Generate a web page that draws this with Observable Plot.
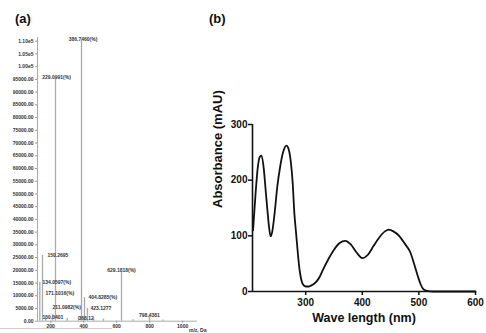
<!DOCTYPE html>
<html><head><meta charset="utf-8">
<script src="https://cdn.jsdelivr.net/npm/d3@7"></script>
<script src="https://cdn.jsdelivr.net/npm/@observablehq/plot@0.6"></script>
<style>
body{margin:0;background:#fff;font-family:"Liberation Sans",Arial,sans-serif}
#wrap{position:relative;width:486px;height:333px;overflow:hidden;background:#fff}
#pa{position:absolute;left:0;top:0}
#pb{position:absolute;left:190px;top:0}
.tag{position:absolute;font-size:13px;font-weight:bold;color:#111;line-height:15px}
.rule{position:absolute;left:0;top:328px;width:112px;height:1px;background:#ccc}
</style></head><body>
<div id="wrap">
  <div id="pa"></div><div id="pb"></div>
  <div class="tag" style="left:15px;top:11px">(a)</div>
  <div class="tag" style="left:209px;top:11px">(b)</div>
  <div class="rule"></div>
</div>
<script>
// ---------- Panel (a): mass spectrum ----------
const msPeakMz        = [134.06, 150.27, 229.10, 386.75, 404.83, 423.13, 629.18, 798.44, 170, 211, 300, 368, 460, 520, 700, 880];
const msPeakIntensity = [15200, 25800, 95000, 110300, 9300, 5000, 19200, 2300, 1500, 2500, 1200, 1800, 1000, 800, 600, 500];
const msLabelText      = ["386.7460(%)", "229.0991(%)", "150.2695", "134.0597(%)", "171.1016(%)", "211.0982(%)", "150.0401", "368.12", "404.8285(%)", "423.1277", "629.1818(%)", "798.4381"];
const msLabelMz        = [395.8, 235.2, 180.6, 150.3, 168.5, 210.9, 150.3, 368.5, 429.0, 441.2, 629.0, 798.8];
const msLabelIntensity = [110900, 95750, 25870, 15240, 10900, 5400, 1460, 1060, 9330, 5000, 19960, 2240];
const msLabelAnchor    = ["middle", "middle", "start", "start", "start", "start", "start", "start", "start", "start", "middle", "middle"];
const msXTicks = [200, 400, 600, 800, 1000];
const msYTicks = d3.range(0, 110001, 5000);

const peaks = msPeakMz.map((mz, i) => ({mz, intensity: msPeakIntensity[i]}));
const labels = msLabelText.map((text, i) => ({text, mz: msLabelMz[i], intensity: msLabelIntensity[i], anchor: msLabelAnchor[i]}));
const yFmt = d => d >= 100000 ? (d / 1e5).toFixed(2) + "e5" : d.toFixed(2);

const pa = Plot.plot({
  width: 215, height: 333,
  marginLeft: 37, marginRight: 18, marginTop: 40.7, marginBottom: 12.3,
  style: {fontSize: "5px", fontWeight: "bold", fontFamily: "Liberation Sans, Arial, sans-serif", color: "#333", background: "transparent"},
  x: {domain: [120, 1090]},
  y: {domain: [0, 110000]},
  marks: [
    Plot.ruleX(peaks, {x: "mz", y1: 0, y2: "intensity", stroke: "#aaa", strokeWidth: 1.3}),
    Plot.ruleX([120], {y1: 0, y2: 111500, stroke: "#aaa", strokeWidth: 1}),
    Plot.ruleY([0], {x1: 120, x2: 1090, stroke: "#aaa", strokeWidth: 1}),
    Plot.axisY({ticks: msYTicks, tickFormat: yFmt, tickSize: 2, tickPadding: 2, label: null, stroke: "#999"}),
    Plot.axisX({ticks: msXTicks, tickFormat: d => String(d), tickSize: 2, tickPadding: 1, label: null, stroke: "#999"}),
    Plot.text(labels.filter(d => d.anchor === "middle"), {x: "mz", y: "intensity", text: "text", textAnchor: "middle", fill: "#333"}),
    Plot.text(labels.filter(d => d.anchor === "start"), {x: "mz", y: "intensity", text: "text", textAnchor: "start", fill: "#333"}),
    Plot.text(["m/z, Da"], {frameAnchor: "bottom-right", textAnchor: "end", dx: 9, dy: 10.5, fill: "#333"})
  ]
});
document.getElementById("pa").appendChild(pa);

// ---------- Panel (b): UV-Vis absorbance ----------
const uvWavelength = [207,211,215,219,222,226,229,232,235,238,241,245,250,255,260,266,270,274,277,280,283,286,289,292,295,300,
  305,310,315,320,325,330,340,350,360,370,380,390,400,410,420,430,440,447,455,465,475,485,492,498,503,508,515,525,550,600];
const uvAbsorbance = [110,170,220,242,244,220,185,150,118,99,108,140,190,225,250,262,255,230,195,140,105,70,40,22,13,9,
  9,11,14,19,27,38,58,75,87,91,84,70,60,66,82,97,108,111,108,100,86,70,48,28,13,4,1,0,0,0];
const uvXTicks = [300, 400, 500, 600];
const uvYTicks = [0, 100, 200, 300];
const uv = uvWavelength.map((w, i) => ({w, a: uvAbsorbance[i]}));

const pb = Plot.plot({
  width: 296, height: 333,
  marginLeft: 62, marginRight: 11, marginTop: 124, marginBottom: 42,
  style: {fontSize: "10px", fontWeight: "bold", fontFamily: "Liberation Sans, Arial, sans-serif", color: "#111", background: "transparent"},
  x: {domain: [206, 600]},
  y: {domain: [0, 300]},
  marks: [
    Plot.ruleX([206], {y1: 0, y2: 300, stroke: "#111", strokeWidth: 1.6}),
    Plot.ruleY([0], {x1: 206, x2: 600, stroke: "#111", strokeWidth: 1.6}),
    Plot.axisX({ticks: uvXTicks, tickSize: 4, tickPadding: 3, strokeWidth: 1.5, label: null}),
    Plot.axisY({ticks: uvYTicks, tickSize: 4, tickPadding: 1, strokeWidth: 1.5, label: null}),
    Plot.lineY(uv, {x: "w", y: "a", curve: "monotone-x", stroke: "#111", strokeWidth: 1.8}),
    Plot.text(["Wave length (nm)"], {frameAnchor: "bottom", dy: 30.5, fontSize: 12.5, fontWeight: "bold", fill: "#111"}),
    Plot.text(["Absorbance (mAU)"], {frameAnchor: "left", dx: -35, rotate: -90, fontSize: 13, fontWeight: "bold", fill: "#111"})
  ]
});
document.getElementById("pb").appendChild(pb);
</script>
</body></html>
